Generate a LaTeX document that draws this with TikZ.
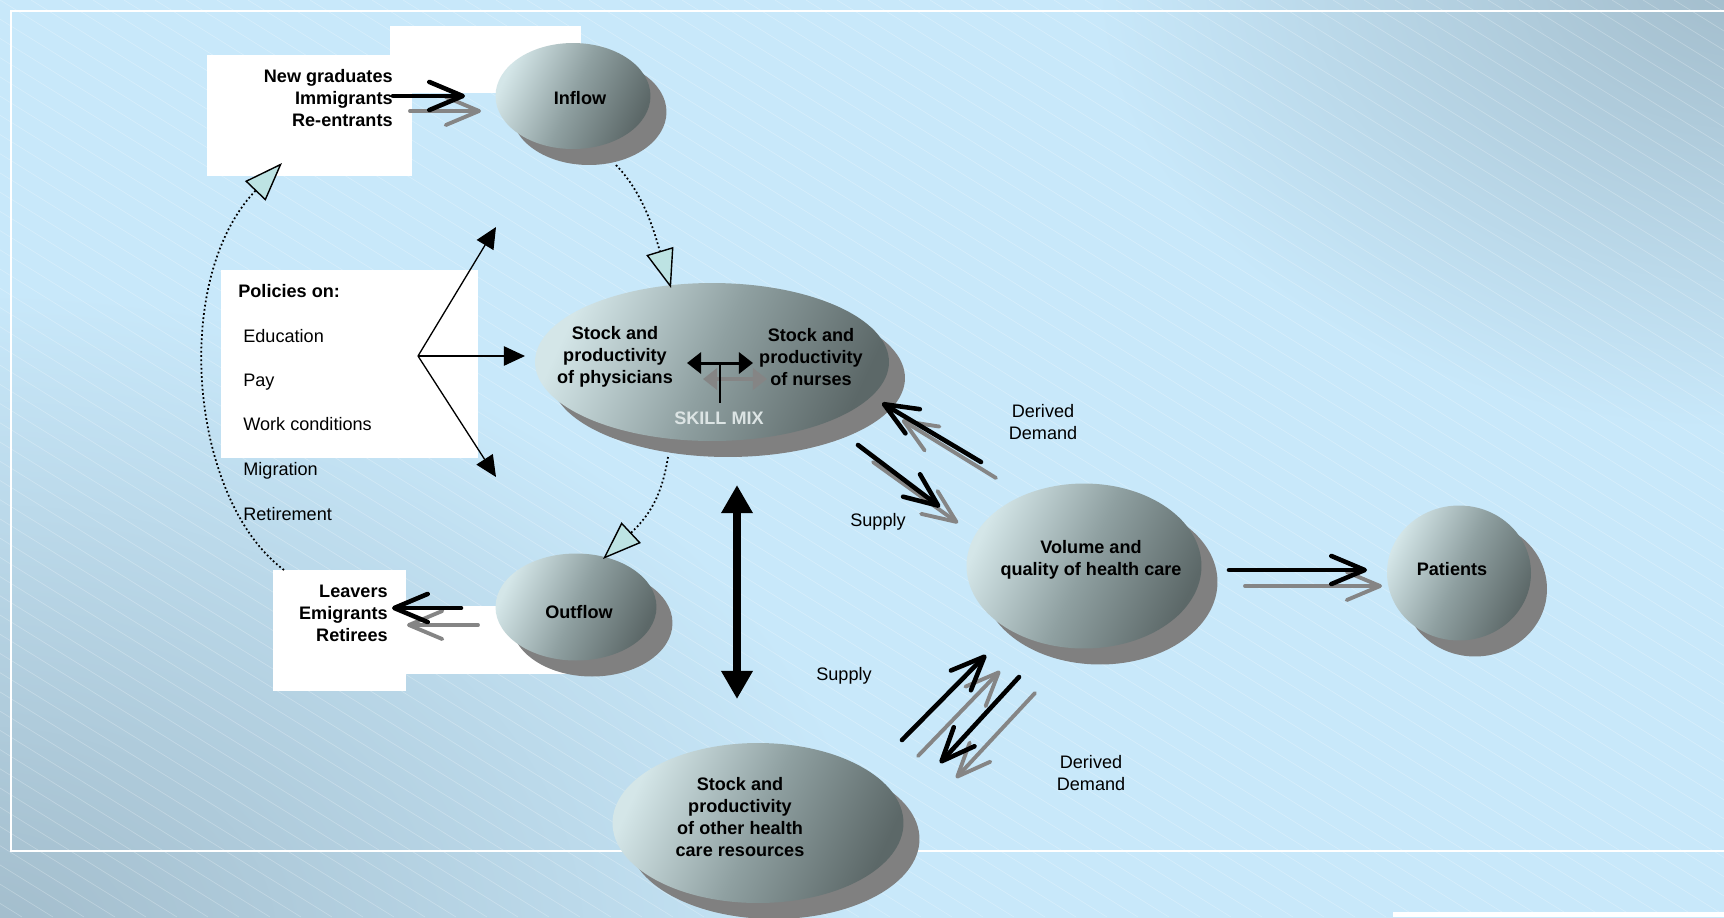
\documentclass[tikz,border=0pt]{standalone}
\usepackage{fontspec}
\setmainfont{Liberation Sans}
\usetikzlibrary{arrows.meta,shapes.geometric,shadows}
\definecolor{bglight}{HTML}{C8E8FA}
\definecolor{bgcorner}{HTML}{A2BCCB}
\definecolor{blobhi}{HTML}{D4E6E8}
\definecolor{blobmid}{HTML}{8FA0A1}
\definecolor{blobdark}{HTML}{5C6868}
\definecolor{blobshadow}{HTML}{808080}
\definecolor{arrowgray}{HTML}{858585}
\definecolor{tipcyan}{HTML}{BDE3E3}
\definecolor{skillgray}{HTML}{DCE4E4}

\begin{document}
\begin{tikzpicture}[x=0.02cm, y=-0.02cm,
    blob/.style={ellipse, inner sep=0pt, top color=blobhi, bottom color=blobdark, middle color=blobmid, shading angle=65,
        drop shadow={shadow xshift=0.32cm, shadow yshift=-0.32cm, fill=blobshadow, opacity=1}},
    boldtxt/.style={font=\bfseries\fontsize{10.3}{12.6}\selectfont, inner sep=0pt, align=center},
    plaintxt/.style={font=\fontsize{10.3}{12.6}\selectfont, inner sep=0pt, align=center},
    chev/.style={line width=2.6pt, line cap=round, -{Straight Barb[length=19pt, width=16pt, round]}},
    chevgray/.style={chev, draw=arrowgray, line width=2.2pt},
    fanarrow/.style={line width=0.75pt, -{Triangle[length=12pt, width=11pt]}},
    loopflow/.style={dash pattern=on 1pt off 1.4pt, line width=1pt, -{Triangle[length=22pt, width=16pt, fill=tipcyan, line width=0.8pt]}},
    stripe/.style={white, opacity=0.25, line width=0.4pt}
]
% background
\useasboundingbox (0,0) rectangle (1724,917);
\fill[bglight] (-20,-20) rectangle (1744,940);
\shade[inner color=bgcorner, outer color=bglight] (-20,940) ellipse [x radius=18cm, y radius=13cm];
\shade[inner color=bgcorner, outer color=bglight] (1744,-20) ellipse [x radius=13cm, y radius=9cm];
\clip (0,0) rectangle (1724,917);
\foreach \k in {-48,...,56}
    \draw[stripe] (\k*31,0) -- ++(1479,917);
\draw[white, line width=1.2pt] (1724,11) -- (11,11) -- (11,851) -- (1724,851);

% white boxes
\fill[white] (390,26) rectangle (581,93);
\fill[white] (207,55) rectangle (412,176);
\fill[white] (221,270) rectangle (478,458);
\fill[white] (406,606) rectangle (590,674);
\fill[white] (273,570) rectangle (406,691);
\fill[white] (1393,912) rectangle (1724,917);

% ellipses
\node[blob, minimum width=3.1cm, minimum height=2.12cm] (inflow) at (573,96) {};
\node[blob, minimum width=3.22cm, minimum height=2.14cm] (outflow) at (576,607) {};
\node[blob, minimum width=7.08cm, minimum height=3.16cm] (staff) at (712,362) {};
\node[blob, minimum width=4.7cm, minimum height=3.3cm] (care) at (1084,566) {};
\node[blob, minimum width=2.88cm, minimum height=2.7cm] (patients) at (1459,573) {};
\node[blob, minimum width=5.82cm, minimum height=3.2cm] (resources) at (758,823) {};

% texts
\node[boldtxt] (inTxt) at (580,98) {Inflow};
\node[boldtxt] (outTxt) at (579,612) {Outflow};
\node[boldtxt] (docTxt) at (615,357) {Stock and\\productivity\\of physicians};
\node[boldtxt] (nurseTxt) at (811,357) {Stock and\\productivity\\of nurses};
\node[boldtxt, text=skillgray] (skillmix) at (719,418) {SKILL MIX};
\node[boldtxt] (careTxt) at (1091,560) {Volume and\\quality of health care};
\node[boldtxt] (patTxt) at (1452,569) {Patients};
\node[boldtxt] (resTxt) at (740,817) {Stock and\\productivity\\of other health\\care resources};
\node[boldtxt, anchor=east, align=right] (joiners) at (393,98) {New graduates\\Immigrants\\Re-entrants};
\node[boldtxt, anchor=east, align=right] (leavers) at (388,613) {Leavers\\Emigrants\\Retirees};
\node[boldtxt, anchor=base west] (policies) at (238,297) {Policies on:};
\foreach \name/\txt/\yy in {educ/Education/342, pay/Pay/386, work/Work conditions/430, migr/Migration/475, retire/Retirement/520}
    \node[plaintxt, anchor=base west] (\name) at (243,\yy) {\txt};
\node[plaintxt] (ddTop) at (1043,422) {Derived\\Demand};
\node[plaintxt] (supTop) at (878,522) {Supply};
\node[plaintxt] (supBot) at (844,676) {Supply};
\node[plaintxt] (ddBot) at (1091,773) {Derived\\Demand};

% arrow ends
\coordinate (inA) at (393,96);   \coordinate (inB) at (465,96);
\coordinate (inC) at (410,111);  \coordinate (inD) at (481,111);
\coordinate (outA) at (461,608); \coordinate (outB) at (392,608);
\coordinate (outC) at (478,625); \coordinate (outD) at (407,625);
\coordinate (ddA) at (981,462);  \coordinate (ddB) at (882,403);
\coordinate (ddC) at (996,478);  \coordinate (ddD) at (902,420);
\coordinate (suA) at (858,445);  \coordinate (suB) at (940,507);
\coordinate (suC) at (873,462);  \coordinate (suD) at (958,523);
\coordinate (paA) at (1229,570); \coordinate (paB) at (1367,570);
\coordinate (paC) at (1245,586); \coordinate (paD) at (1382,586);
\coordinate (sbA) at (902,740);  \coordinate (sbB) at (986,655);
\coordinate (sbC) at (918,756);  \coordinate (sbD) at (1000,671);
\coordinate (dbA) at (1019,677); \coordinate (dbB) at (940,763);
\coordinate (dbC) at (1035,693); \coordinate (dbD) at (956,778);
\coordinate (vTop) at (737,485); \coordinate (vBot) at (737,699);
\coordinate (fan) at (418,356);
\coordinate (fanUp) at (496,227); \coordinate (fanMid) at (525,356); \coordinate (fanDn) at (496,477);
\coordinate (skL) at (687,363); \coordinate (skR) at (753,363); \coordinate (skMid) at (720,363);
\coordinate (skGL) at (703,379); \coordinate (skGR) at (767,379); \coordinate (skBase) at (720,403);
\coordinate (loopA) at (284,570); \coordinate (loopB) at (282,163);
\coordinate (inflowOut) at (616,165); \coordinate (staffIn) at (671,288);
\coordinate (staffOut) at (668,457); \coordinate (outflowIn) at (603,559);

% chevron arrows
\foreach \a/\b in {inC/inD, outC/outD, ddC/ddD, suC/suD, paC/paD, sbC/sbD, dbC/dbD}
    \draw[chevgray] (\a) -- (\b);
\foreach \a/\b in {inA/inB, outA/outB, ddA/ddB, suA/suB, paA/paB, sbA/sbB, dbA/dbB}
    \draw[chev] (\a) -- (\b);

% policies fan
\draw[fanarrow] (fan) -- (fanUp);
\draw[fanarrow] (fan) -- (fanMid);
\draw[fanarrow] (fan) -- (fanDn);

% skill mix
\draw[arrowgray, line width=2pt, {Triangle[length=8pt, width=12pt]}-{Triangle[length=8pt, width=12pt]}] (skGL) -- (skGR);
\draw[line width=1.7pt, {Triangle[length=8pt, width=12pt]}-{Triangle[length=8pt, width=12pt]}] (skL) -- (skR);
\draw[line width=1pt] (skMid) -- (skBase);

% staff <-> other resources
\draw[line width=4pt, {Triangle[length=16pt, width=17pt]}-{Triangle[length=16pt, width=17pt]}] (vTop) -- (vBot);

% stock and flow loop
\draw[loopflow] (loopA) .. controls (190,500) and (170,280) .. (loopB);
\draw[loopflow] (inflowOut) .. controls (645,195) and (655,235) .. (staffIn);
\draw[loopflow] (staffOut) .. controls (662,495) and (650,515) .. (outflowIn);
\end{tikzpicture}
\end{document}
